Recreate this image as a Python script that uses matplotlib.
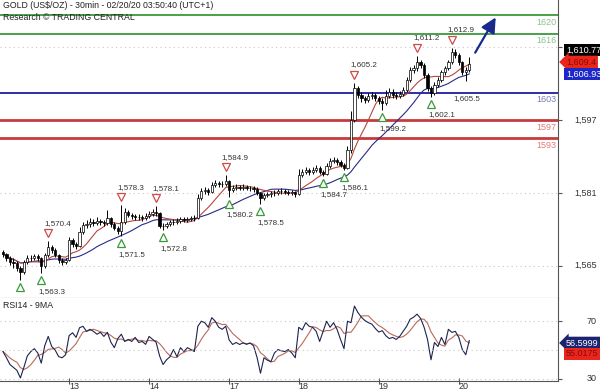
import matplotlib
matplotlib.use("Agg")
import matplotlib.pyplot as plt
import matplotlib.transforms as mtransforms
import numpy as np
import pandas as pd

# gold 30min chart at about one value per hour
first_open = 1568.0
close = [1567.5, 1566.7, 1565.8, 1565.6, 1564.5, 1563.6, 1565.8, 1566.7, 1566.7, 1567.1,
         1566.7, 1564.9, 1567.3, 1569.1, 1568.4, 1567.3, 1566.2, 1565.8, 1566.2, 1570.6,
         1569.7, 1569.3, 1572.4, 1573.9, 1574.1, 1574.6, 1574.4, 1574.8, 1574.6, 1574.4,
         1575.5, 1574.1, 1573.3, 1572.6, 1574.6, 1576.8, 1576.1, 1575.9, 1575.7, 1575.7,
         1575.5, 1575.9, 1576.3, 1576.8, 1576.6, 1573.7, 1573.7, 1574.1, 1574.6, 1574.6,
         1574.8, 1575.2, 1575.0, 1575.2, 1575.5, 1575.5, 1579.9, 1581.4, 1581.6, 1581.2,
         1582.7, 1583.2, 1583.0, 1583.0, 1583.6, 1581.6, 1582.1, 1582.3, 1582.1, 1582.3,
         1582.1, 1582.1, 1581.8, 1581.0, 1579.9, 1580.5, 1580.7, 1581.0, 1581.0, 1581.4,
         1581.4, 1581.2, 1581.0, 1581.2, 1580.7, 1584.9, 1585.6, 1586.0, 1585.6, 1586.0,
         1586.5, 1585.6, 1585.2, 1586.9, 1588.0, 1588.2, 1587.8, 1587.1, 1586.5, 1590.4,
         1597.0, 1604.0, 1602.5, 1601.8, 1601.4, 1602.3, 1602.5, 1601.8, 1601.2, 1600.7,
         1602.3, 1603.2, 1602.5, 1602.3, 1602.7, 1603.6, 1605.8, 1608.0, 1608.4, 1609.7,
         1609.1, 1606.9, 1604.0, 1602.9, 1604.7, 1605.8, 1607.5, 1608.4, 1609.7, 1612.0,
         1611.3, 1609.7, 1607.5, 1608.0, 1609.4]
high = [1568.4, 1567.9, 1567.2, 1566.6, 1566.0, 1565.0, 1566.3, 1567.3, 1567.4, 1567.6,
        1567.5, 1567.0, 1567.8, 1570.4, 1569.6, 1568.8, 1567.6, 1566.8, 1566.7, 1571.4,
        1571.0, 1570.2, 1573.4, 1574.6, 1575.0, 1575.4, 1575.2, 1575.6, 1575.3, 1575.1,
        1577.2, 1575.8, 1574.5, 1573.8, 1578.3, 1577.6, 1577.2, 1576.6, 1576.4, 1576.3,
        1576.2, 1576.5, 1577.0, 1577.4, 1578.1, 1576.9, 1574.3, 1574.7, 1575.1, 1575.2,
        1575.4, 1575.8, 1575.7, 1575.8, 1576.0, 1576.1, 1580.8, 1582.0, 1582.3, 1582.0,
        1583.3, 1583.9, 1583.7, 1583.6, 1584.9, 1583.9, 1582.7, 1582.9, 1582.8, 1582.9,
        1582.7, 1582.6, 1582.5, 1582.2, 1581.3, 1581.0, 1581.3, 1581.5, 1581.6, 1581.9,
        1582.0, 1581.8, 1581.6, 1581.7, 1581.5, 1586.3, 1586.2, 1586.7, 1586.4, 1586.6,
        1587.1, 1586.9, 1586.0, 1587.5, 1588.6, 1588.9, 1588.7, 1588.2, 1587.5, 1591.4,
        1599.0, 1605.2, 1604.6, 1603.2, 1602.3, 1603.0, 1603.2, 1603.0, 1602.3, 1601.8,
        1603.6, 1604.0, 1603.8, 1603.1, 1603.4, 1604.3, 1606.5, 1608.7, 1609.2, 1611.2,
        1610.3, 1609.5, 1607.3, 1604.5, 1605.4, 1606.5, 1608.1, 1609.0, 1610.3, 1612.9,
        1612.6, 1611.8, 1610.1, 1608.6, 1610.8]
low = [1567.0, 1566.0, 1565.2, 1564.6, 1563.8, 1561.9, 1563.2, 1565.4, 1566.0, 1566.2,
       1566.0, 1563.3, 1564.5, 1567.0, 1567.9, 1566.9, 1565.7, 1565.2, 1565.3, 1566.0,
       1569.2, 1568.6, 1569.0, 1572.0, 1573.3, 1573.6, 1573.8, 1574.0, 1573.9, 1573.7,
       1574.0, 1573.6, 1572.8, 1572.0, 1571.5, 1574.2, 1575.6, 1575.2, 1575.1, 1575.0,
       1574.9, 1575.0, 1575.5, 1575.9, 1576.0, 1573.2, 1572.8, 1573.2, 1573.7, 1574.0,
       1574.1, 1574.3, 1574.5, 1574.6, 1574.8, 1574.9, 1575.2, 1579.4, 1580.8, 1580.6,
       1580.9, 1582.2, 1582.4, 1582.3, 1582.6, 1580.2, 1581.1, 1581.6, 1581.6, 1581.7,
       1581.6, 1581.5, 1581.2, 1580.5, 1578.5, 1579.4, 1580.0, 1580.2, 1580.4, 1580.6,
       1580.8, 1580.7, 1580.5, 1580.6, 1580.2, 1580.5, 1584.4, 1585.1, 1585.0, 1585.1,
       1585.6, 1585.1, 1584.7, 1584.9, 1586.5, 1587.5, 1587.2, 1586.6, 1586.1, 1586.3,
       1589.8, 1596.5, 1601.9, 1601.0, 1600.7, 1600.9, 1601.7, 1601.2, 1600.6, 1599.2,
       1600.3, 1601.8, 1601.9, 1601.6, 1601.8, 1602.2, 1603.2, 1605.4, 1607.4, 1607.9,
       1608.4, 1606.3, 1603.4, 1602.1, 1602.5, 1604.2, 1605.3, 1607.0, 1608.0, 1609.3,
       1610.7, 1609.1, 1606.9, 1605.5, 1607.6]

rsi = [49.0, 44.7, 40.0, 38.0, 36.0, 30.7, 38.0, 46.0, 49.0, 51.0,
       48.0, 41.0, 53.0, 59.5, 52.5, 50.0, 45.5, 44.7, 46.8, 60.0,
       62.0, 58.8, 65.5, 66.5, 63.0, 64.4, 63.0, 61.0, 62.3, 59.5,
       62.3, 55.5, 51.7, 58.0, 61.0, 56.0, 57.4, 56.0, 58.8, 55.3,
       56.0, 54.0, 59.5, 57.4, 55.5, 46.0, 40.0, 43.3, 45.4, 50.4,
       45.4, 51.7, 49.0, 51.7, 50.4, 49.0, 66.5, 70.0, 69.0, 65.8,
       72.5, 70.0, 65.8, 64.4, 66.5, 57.0, 53.9, 55.3, 53.9, 55.0,
       54.0, 55.0, 53.0, 45.0, 34.0, 44.7, 43.0, 42.0, 48.0, 50.4,
       49.5, 49.0, 50.4, 48.0, 44.7, 65.8, 64.0, 69.0, 66.5, 65.8,
       63.0, 56.0, 63.0, 70.0, 65.8, 69.0, 64.4, 57.4, 51.0, 70.0,
       69.0, 80.5, 76.0, 72.8, 70.5, 69.0, 68.0, 65.0, 62.5, 63.5,
       60.0, 58.0, 58.8, 57.4, 59.5, 63.0, 66.5, 71.4, 72.8, 74.9,
       72.0, 66.0, 57.4, 43.3, 55.3, 52.5, 58.8, 53.9, 64.4, 62.3,
       63.0, 58.8, 50.4, 46.8, 56.6]

day_start = [19, 42, 65, 85, 108, 131]
day_labels = ["13", "14", "17", "18", "19", "20"]

levels = [1620, 1616, 1603, 1597, 1593]
level_colors = ["#3a9a3a", "#3a9a3a", "#1c1ca0", "#c83a3a", "#c83a3a"]
level_text_colors = ["#8cc08c", "#8cc08c", "#7a7ab8", "#e07a7a", "#e07a7a"]

# swing highs / lows marked with triangles
top_idx = [13, 34, 44, 64, 101, 119, 129]
bottom_idx = [5, 11, 34, 46, 65, 74, 92, 98, 109, 123]
bottom_label = [False, True, True, True, True, True, True, True, True, True]

price_ticks = [1613, 1597, 1581, 1565]
price_tick_labels = ["", "1,597", "1,581", "1,565"]  # 1,613 sits under the value tags
rsi_ticks = [70, 30]
rsi_tick_labels = ["70", "30"]

last_price = "1,610.77"
last_close = "1,609.4"
ma_last = "1,606.93"
rsi_last = "56.5999"
rsi_ma_last = "55.0175"

# target arrow (bar index, price)
arrow_from = (135.3, 1611.3)
arrow_to = (142.0, 1620.1)

W, H = 600, 392


def px(x, y):
    return x / W, 1 - y / H


def main():
    plt.rcParams["font.family"] = ["Liberation Sans", "DejaVu Sans"]
    fig = plt.figure(figsize=(6, 3.92), dpi=100)
    ax = fig.add_axes([0, 94 / H, 558 / W, 298 / H])
    ax2 = fig.add_axes([0, 11 / H, 558 / W, 83 / H])

    c = np.array(close)
    o = np.array([first_open] + close[:-1])
    x = np.arange(len(c))
    up = c >= o

    ma_fast = pd.Series(c).rolling(9, min_periods=1).mean()
    ma_slow = pd.Series(c).rolling(22, min_periods=1).mean()

    for lv, col in zip(levels, level_colors):
        ax.axhline(lv, color=col, lw=2.0 if col == "#c83a3a" else 1.3, zorder=2)
    for lv, col in zip(levels, level_text_colors):
        ax.annotate(str(lv), xy=(0.997, lv), xycoords=ax.get_yaxis_transform(),
                    xytext=(0, -7), textcoords="offset pixels", ha="right", va="center",
                    color=col, fontsize=6.5)

    ax.plot(x, ma_slow, color="#2a2a8a", lw=0.8, zorder=3)
    ax.plot(x, ma_fast, color="#b5483c", lw=0.8, zorder=3)

    ax.vlines(x, low, high, color="black", lw=0.7, zorder=4)
    ax.bar(x[up], (c - o)[up], bottom=o[up], width=0.65, color="white",
           edgecolor="black", lw=0.5, zorder=5)
    ax.bar(x[~up], (c - o)[~up], bottom=o[~up], width=0.65, color="black",
           edgecolor="black", lw=0.5, zorder=5)

    shift_up = ax.transData + mtransforms.ScaledTranslation(0, 8 / 100, fig.dpi_scale_trans)
    shift_dn = ax.transData + mtransforms.ScaledTranslation(0, -7 / 100, fig.dpi_scale_trans)
    for i in top_idx:
        ax.plot(i, high[i], marker="v", ms=5.5, mfc="white", mec="#d04a4a", mew=0.9,
                transform=shift_up, zorder=6)
        ax.annotate(f"{high[i]:,.1f}", xy=(i, high[i]), xytext=(-4, 18),
                    textcoords="offset pixels", ha="left", va="center",
                    fontsize=5.8, color="#333333")
    for i, show in zip(bottom_idx, bottom_label):
        ax.plot(i, low[i], marker="^", ms=5.5, mfc="white", mec="#3a9a3a", mew=0.9,
                transform=shift_dn, zorder=6)
        if show:
            ax.annotate(f"{low[i]:,.1f}", xy=(i, low[i]), xytext=(-3, -18),
                        textcoords="offset pixels", ha="left", va="center",
                        fontsize=5.8, color="#333333")
    ax.annotate(f"{low[133]:,.1f}", xy=(133, low[133]), xytext=(-12, -17),
                textcoords="offset pixels", ha="left", va="center",
                fontsize=5.8, color="#333333")

    ax.annotate("", xy=arrow_to, xytext=arrow_from,
                arrowprops=dict(arrowstyle="-|>,head_length=0.9,head_width=0.45",
                                color="#1a2a8c", lw=1.6), zorder=7)

    ax.set_xlim(-0.86, 159.5)
    ax.set_ylim(1557.9, 1623.4)
    ax2.set_xlim(-0.86, 159.5)
    ax2.set_ylim(28.6, 86.1)

    rs = pd.Series(rsi)
    ax2.plot(x, rs.rolling(5, min_periods=1).mean(), color="#b86a5a", lw=0.8)
    ax2.plot(x, rs, color="#1c2450", lw=0.8)

    for a, ticks, labels in ((ax, price_ticks, price_tick_labels),
                             (ax2, rsi_ticks, rsi_tick_labels)):
        for s in ("left", "top"):
            a.spines[s].set_visible(False)
        a.spines["right"].set_color("#555555")
        a.spines["bottom"].set_color("#555555")
        a.yaxis.tick_right()
        a.set_yticks(ticks)
        a.tick_params(axis="y", length=3, width=0.8, color="#555555", labelright=False)
        a.grid(axis="y", color="#c8c8c8", linestyle=(0, (1, 3)), lw=0.8)
        for t, lbl in zip(ticks, labels):
            a.text(597 / 558, t, lbl, transform=a.get_yaxis_transform(), ha="right",
                   va="center", fontsize=6.5, color="#333333")
    ax2.axhline(50, color="#c8c8c8", linestyle=(0, (1, 3)), lw=0.8)

    ax.set_xticks([])
    ax2.set_xticks(day_start)
    ax2.set_xticklabels(day_labels, ha="left", fontsize=6.5, color="#333333")
    ax2.tick_params(axis="x", direction="inout", length=5, width=0.8, color="#555555", pad=-1.5)

    ax.text(3 / 558, 1 - 6 / 298, "GOLD (US$/OZ) - 30min - 02/20/20 03:50:40 (UTC+1)",
            transform=ax.transAxes, fontsize=6.3, va="center", color="#222222")
    ax.text(3 / 558, 1 - 17 / 298, "Research \u00a9 TRADING CENTRAL",
            transform=ax.transAxes, fontsize=6.3, va="center", color="#222222")
    ax2.text(3 / 558, 1 - 7 / 83, "RSI14 - 9MA", transform=ax2.transAxes,
             fontsize=6.3, va="center", color="#222222")

    # value tags on the right edge
    tags = [(50, last_price, "black", "white", "square"),
            (62, last_close, "#e8261c", "#8a0a0a", "larrow"),
            (74, ma_last, "#1c28c8", "white", "square"),
            (343, rsi_last, "#1c2470", "white", "larrow"),
            (354, rsi_ma_last, "#e8261c", "#8a0a0a", "square")]
    for ty, txt, bg, fg, style in tags:
        fx, fy = px(566, ty)
        fig.text(fx, fy, txt, ha="left", va="center", fontsize=6.5, color=fg,
                 bbox=dict(boxstyle=f"{style},pad=0.2", fc=bg, ec="none"))

    fig.savefig("out.png", dpi=100)


if __name__ == "__main__":
    main()
